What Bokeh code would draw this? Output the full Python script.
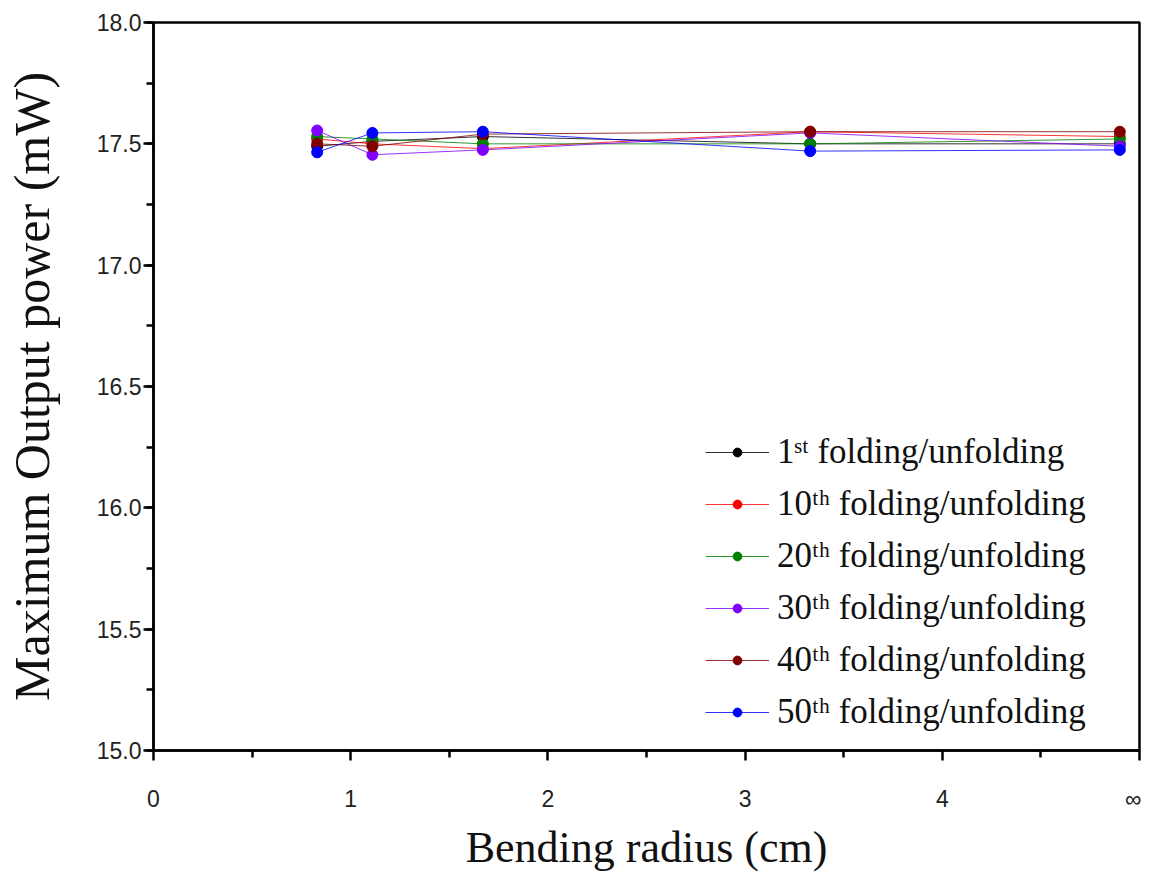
from bokeh.plotting import figure
from bokeh.embed import file_html
from bokeh.resources import INLINE
from bokeh.models import (FixedTicker, SingleIntervalTicker, PrintfTickFormatter,
                          Legend, LegendItem, Range1d)

# ---- data ----
radius = [0.83, 1.11, 1.67, 3.33, 4.90]   # last point = infinite radius (flat)
series_names = ["1ˢᵗ folding/unfolding", "10ᵗʰ folding/unfolding", "20ᵗʰ folding/unfolding",
                "30ᵗʰ folding/unfolding", "40ᵗʰ folding/unfolding", "50ᵗʰ folding/unfolding"]
p1st = [17.49, 17.51, 17.53, 17.50, 17.50]
p10th = [17.52, 17.50, 17.48, 17.55, 17.53]
p20th = [17.53, 17.52, 17.50, 17.50, 17.52]
p30th = [17.555, 17.455, 17.475, 17.545, 17.49]
p40th = [17.50, 17.49, 17.54, 17.55, 17.55]
p50th = [17.465, 17.545, 17.55, 17.47, 17.475]
colors = ["#000000", "#FF0000", "#008000", "#8000FF", "#800000", "#0000FF"]
x_ticks = [0, 1, 2, 3, 4, 5]
x_tick_labels = ["0", "1", "2", "3", "4", "∞"]

values = [p1st, p10th, p20th, p30th, p40th, p50th]

p = figure(width=1141, height=874, output_backend="svg", toolbar_location=None,
           x_range=Range1d(0, 5), y_range=Range1d(15, 18),
           min_border_left=140, min_border_right=2, min_border_top=22,
           min_border_bottom=118)
p.grid.visible = False
p.outline_line_color = "black"
p.outline_line_width = 2.5
p.background_fill_color = "white"

items = []
for name, ys, c in zip(series_names, values, colors):
    l = p.line(radius, ys, line_color=c, line_width=1, line_alpha=0.8)
    s = p.scatter(radius, ys, size=11, fill_color=c, line_color=c)
    items.append(LegendItem(label=name, renderers=[l, s]))

# x axis
xa = p.xaxis[0]
xa.ticker = FixedTicker(ticks=x_ticks, minor_ticks=[0.5, 1.5, 2.5, 3.5, 4.5])
xa.major_label_overrides = {t: lab for t, lab in zip(x_ticks, x_tick_labels)}
xa.axis_label = "Bending radius (cm)"
# y axis
ya = p.yaxis[0]
ya.ticker = SingleIntervalTicker(interval=0.5, num_minor_ticks=2)
ya.formatter = PrintfTickFormatter(format="%.1f")
ya.axis_label = "Maximum Output power (mW)"

for ax in (xa, ya):
    ax.axis_line_width = 2.5
    ax.axis_line_color = "black"
    ax.major_tick_in = 0
    ax.major_tick_out = 10
    ax.minor_tick_in = 0
    ax.minor_tick_out = 7
    ax.major_tick_line_width = 2.5
    ax.minor_tick_line_width = 2.5
    ax.major_label_text_font = "Liberation Sans"
    ax.major_label_text_font_size = "23px"
    ax.major_label_text_color = "#222222"
    ax.axis_label_text_font = "Liberation Serif"
    ax.axis_label_text_font_style = "normal"
    ax.axis_label_text_color = "#111111"

xa.major_label_standoff = 25
xa.axis_label_standoff = 8
xa.axis_label_text_font_size = "44px"
ya.major_label_standoff = 2
ya.axis_label_standoff = 34
ya.axis_label_text_font_size = "50px"

legend = Legend(items=items, location=(552, 18), padding=0, margin=0,
                border_line_alpha=0, background_fill_alpha=0,
                glyph_width=64, glyph_height=22, label_standoff=8, spacing=12,
                label_text_font="Liberation Serif", label_text_font_size="35px",
                label_text_color="#111111")
p.add_layout(legend, "center")

open("out.html", "w").write(file_html(p, INLINE))
